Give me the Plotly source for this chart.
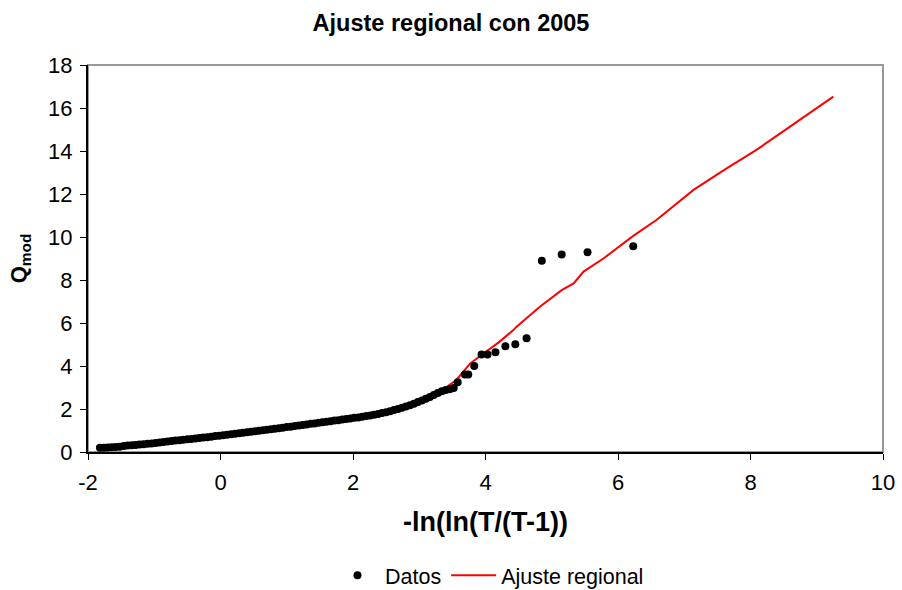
import plotly.graph_objects as go

# Observed data (reduced variate vs Qmod)
datos_x = [-1.82, -1.76, -1.70, -1.64, -1.58, -1.52, -1.46, -1.40, -1.34, -1.28,
           -1.22, -1.16, -1.10, -1.04, -0.98, -0.92, -0.86, -0.80, -0.74, -0.68,
           -0.62, -0.56, -0.50, -0.44, -0.38, -0.32, -0.26, -0.20, -0.14, -0.08,
           -0.02, 0.04, 0.10, 0.16, 0.22, 0.28, 0.34, 0.40, 0.46, 0.52,
           0.58, 0.64, 0.70, 0.76, 0.82, 0.88, 0.94, 1.00, 1.06, 1.12,
           1.18, 1.24, 1.30, 1.36, 1.42, 1.48, 1.54, 1.60, 1.66, 1.72,
           1.78, 1.84, 1.90, 1.96, 2.02, 2.08, 2.14, 2.20, 2.26, 2.32,
           2.38, 2.44, 2.50, 2.56, 2.62, 2.68, 2.74, 2.80, 2.86, 2.92,
           2.98, 3.04, 3.10, 3.16, 3.22, 3.28, 3.34, 3.40, 3.46, 3.52,
           3.58, 3.69, 3.74, 3.83, 3.94, 4.03, 4.15, 4.30, 4.45, 4.62,
           4.85, 5.15, 5.54, 6.23]
datos_y = [0.20, 0.20, 0.21, 0.22, 0.23, 0.25, 0.28, 0.30, 0.31, 0.33,
           0.35, 0.36, 0.38, 0.40, 0.42, 0.44, 0.47, 0.49, 0.51, 0.53,
           0.55, 0.57, 0.59, 0.61, 0.63, 0.65, 0.67, 0.69, 0.71, 0.74,
           0.76, 0.78, 0.80, 0.82, 0.85, 0.87, 0.89, 0.92, 0.94, 0.96,
           0.99, 1.01, 1.04, 1.06, 1.08, 1.11, 1.13, 1.16, 1.18, 1.21,
           1.23, 1.26, 1.28, 1.31, 1.33, 1.36, 1.38, 1.41, 1.43, 1.46,
           1.48, 1.51, 1.53, 1.56, 1.59, 1.61, 1.64, 1.67, 1.70, 1.73,
           1.77, 1.81, 1.85, 1.90, 1.95, 2.00, 2.06, 2.12, 2.18, 2.25,
           2.32, 2.40, 2.48, 2.56, 2.65, 2.74, 2.82, 2.88, 2.92, 2.98,
           3.24, 3.61, 3.61, 4.00, 4.54, 4.54, 4.64, 4.92, 5.01, 5.29,
           8.90, 9.19, 9.29, 9.57]

# Regional fit curve
ajuste_x = [-1.82, -1.40, -1.00, 0.00, 1.00, 2.00, 2.50, 3.00, 3.30, 3.56,
            3.77, 4.00, 4.20, 4.42, 4.47, 4.82, 5.15, 5.33, 5.48, 5.78,
            6.23, 6.58, 7.14, 7.64, 8.09, 9.25]
ajuste_y = [0.12, 0.28, 0.40, 0.76, 1.15, 1.58, 1.85, 2.33, 2.78, 3.35,
            4.12, 4.65, 5.10, 5.67, 5.83, 6.76, 7.53, 7.84, 8.39, 9.00,
            10.05, 10.79, 12.19, 13.19, 14.05, 16.53]

x_ticks = [-2, 0, 2, 4, 6, 8, 10]
x_tick_labels = ["-2", "0", "2", "4", "6", "8", "10"]
y_ticks = [0, 2, 4, 6, 8, 10, 12, 14, 16, 18]

FONT = "Liberation Sans, Arial, sans-serif"

fig = go.Figure()
# fit line drawn first (below markers), without its own legend entry
fig.add_trace(go.Scatter(x=ajuste_x, y=ajuste_y, mode="lines", name="Ajuste regional",
                         line=dict(color="#ff0000", width=2), showlegend=False))
fig.add_trace(go.Scatter(x=datos_x, y=datos_y, mode="markers", name="Datos",
                         marker=dict(color="black", size=8)))
# legend entry for the fit line
fig.add_trace(go.Scatter(x=[None], y=[None], mode="lines", name="Ajuste regional",
                         line=dict(color="#ff0000", width=2)))

fig.add_shape(type="rect", xref="x domain", yref="y domain", x0=0, x1=1, y0=0, y1=1,
              line=dict(color="#999999", width=2), layer="below")

fig.update_layout(
    width=902, height=590,
    paper_bgcolor="white", plot_bgcolor="white",
    margin=dict(l=88, r=19, t=65, b=138, autoexpand=False),
    font=dict(family=FONT, color="black", size=22),
    title=dict(text="<b>Ajuste regional con 2005</b>", x=0.5, xanchor="center",
               y=0.962, yanchor="middle", font=dict(size=23.5)),
    showlegend=True,
    legend=dict(orientation="h", x=0.505, xanchor="center", yref="container",
                y=0.025, yanchor="middle",
                font=dict(size=21.5), itemwidth=45, bgcolor="rgba(0,0,0,0)"),
)
fig.update_xaxes(range=[-2, 10], tickvals=x_ticks, ticktext=x_tick_labels,
                 ticks="outside", ticklen=6, automargin=False, ticklabelstandoff=4,
                 tickcolor="black", showline=True, linecolor="black", linewidth=2,
                 showgrid=False, zeroline=False, tickfont=dict(size=22),
                 title=dict(text="<b>-ln(ln(T/(T-1))</b>", standoff=18, font=dict(size=27)))
fig.update_yaxes(range=[0, 18], tickvals=y_ticks, ticks="outside", ticklen=6,
                 automargin=False, ticklabelstandoff=3,
                 tickcolor="black", showline=True, linecolor="black", linewidth=2,
                 showgrid=False, zeroline=False, tickfont=dict(size=22),
                 title=dict(text="<b>Q<sub>mod</sub></b>", standoff=15, font=dict(size=22)))

fig.write_html("out.html")
